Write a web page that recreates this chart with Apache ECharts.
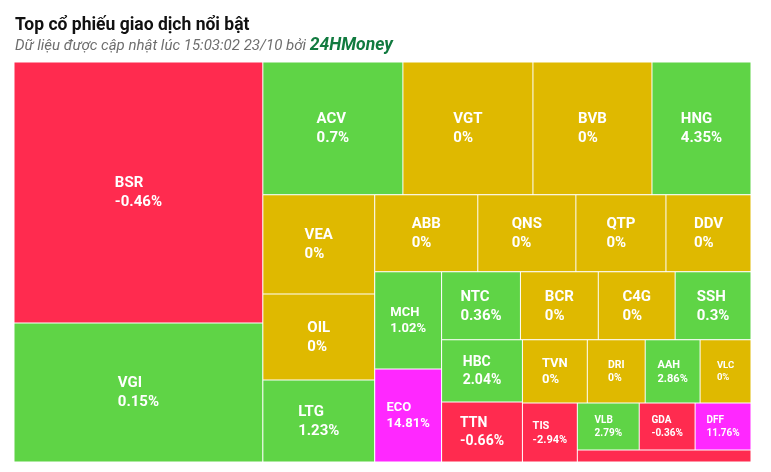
<!DOCTYPE html>
<html>
<head>
<meta charset="utf-8">
<script src="https://cdn.jsdelivr.net/npm/echarts@6/dist/echarts.min.js"></script>
<style>
html,body{margin:0;padding:0;background:#fff;}
#chart{width:771px;height:472px;}
</style>
</head>
<body>
<div id="chart"></div>
<script>
// ---------------- data ----------------
const titleText = 'Top cổ phiếu giao dịch nổi bật';
const updatedText = 'Dữ liệu được cập nhật lúc 15:03:02 23/10 bởi ';
const sourceText = '24HMoney';

const codes   = ['BSR','VGI','ACV','VGT','BVB','HNG','VEA','OIL','LTG','ABB','QNS','QTP','DDV','MCH','ECO','NTC','BCR','C4G','SSH','HBC','TTN','TVN','DRI','AAH','VLC','TIS','VLB','GDA','DFF',''];
const changes = [-0.46, 0.15, 0.7, 0, 0, 4.35, 0, 0, 1.23, 0, 0, 0, 0, 1.02, 14.81, 0.36, 0, 0, 0.3, 2.04, -0.66, 0, 0, 2.86, 0, -2.94, 2.79, -0.36, 11.76, -1];
// relative trading size of each stock (read from tile areas)
const sizes   = [64989, 34611, 18620, 17290, 15827, 13167, 11088, 9632, 9184, 7931, 7546, 6930, 6545, 6499, 6231, 5372, 5304, 5236, 5168, 5022, 4860, 4095, 3654, 3465, 3213, 3245, 2914, 2632, 2632, 2088];

// bands of the alternating (column / row) treemap layout of the reference
const bands = [
  ['BSR','VGI'], ['ACV','VGT','BVB','HNG'], ['VEA','OIL','LTG'], ['ABB','QNS','QTP','DDV'],
  ['MCH','ECO'], ['NTC','BCR','C4G','SSH'], ['HBC','TTN'], ['TVN','DRI','AAH','VLC'],
  ['TIS'], ['VLB','GDA','DFF'], ['']
];

// ---------------- styles ----------------
const GREEN = '#5fd446', RED = '#ff2b4f', YELLOW = '#dfb900', PURPLE = '#ff28ff';
const FONT = 'Roboto, "Noto Sans", sans-serif';
const labelFont = {MCH: 13, ECO: 13, TVN: 13, HBC: 14, TTN: 14, TIS: 11, DRI: 10.5, AAH: 11, VLC: 9.5, VLB: 10, GDA: 10, DFF: 10};

function colorOf(ch) {
  if (ch >= 7) return PURPLE;
  if (ch > 0) return GREEN;
  if (ch < 0) return RED;
  return YELLOW;
}

const measureCtx = document.createElement('canvas').getContext('2d');
function textWidth(str, fs) {
  measureCtx.font = 'bold ' + fs + 'px ' + FONT;
  return measureCtx.measureText(str).width;
}

const idx = {};
codes.forEach((c, i) => { idx[c] = i; });
const TINY = 1e-3;

function leaf(code, cellHeights) {
  const i = idx[code];
  const fs = labelFont[code] || 15;
  const lh = Math.round(fs * 1.25);
  const pct = changes[i] + '%';
  const w1 = textWidth(code, fs), w2 = textWidth(pct, fs);
  const tok = {color: '#fff', fontFamily: FONT, fontWeight: 'bold', fontSize: fs, lineHeight: lh};
  const h = cellHeights && cellHeights[code];
  const padTop = h ? Math.max((h - 2 * lh) / 2, 0) : 0;
  return {
    name: code,
    value: sizes[i],
    change: changes[i],
    padShort: w1 < w2 ? 1 : 2,
    itemStyle: {color: colorOf(changes[i]), borderWidth: 0.5, borderColor: '#fff'},
    label: code ? {
      show: true,
      padding: [padTop, 0, 0, 0],
      rich: {
        a: tok, b: tok,
        p: {fontSize: fs, lineHeight: lh, width: Math.abs(w1 - w2)}
      }
    } : {show: false}
  };
}
function spacer() {
  return {name: '', value: TINY, itemStyle: {color: '#fff', borderWidth: 0}, label: {show: false}};
}
function band(list, hs) {
  const out = [];
  list.forEach((c, k) => { if (k) out.push(spacer()); out.push(leaf(c, hs)); });
  return out.length === 1 ? out[0] : {name: '', children: out};
}
function nest(k, hs) {
  if (k === bands.length - 1) return band(bands[k], hs);
  const head = band(bands[k], hs);
  const rest = nest(k + 1, hs);
  return {name: '', children: k % 2 === 0 ? [head, spacer(), rest] : [head, rest]};
}

function fmt(p) {
  const pct = p.data.change + '%';
  const short = p.data.padShort;
  const l1 = '{a|' + p.name + '}' + (short === 1 ? '{p|\u00a0}' : '');
  const l2 = '{b|' + pct + '}' + (short === 2 ? '{p|\u00a0}' : '');
  return l1 + '\n' + l2;
}

function buildOption(hs) {
  return {
    animation: false,
    backgroundColor: '#fff',
    title: {
      left: 10, top: 12,
      text: titleText,
      textStyle: {fontFamily: FONT, fontSize: 17.5, fontWeight: 'bold', color: '#111'},
      subtext: '{a|' + updatedText + '}{b|' + sourceText + '}',
      itemGap: 2,
      subtextStyle: {
        rich: {
          a: {fontFamily: FONT, fontSize: 15, fontStyle: 'italic', color: '#6e6e6e'},
          b: {fontFamily: FONT, fontSize: 17.5, fontStyle: 'italic', fontWeight: 'bold', color: '#117a3f'}
        }
      }
    },
    series: [{
      type: 'treemap',
      left: 14, top: 62, width: 737, height: 400,
      roam: false,
      nodeClick: false,
      sort: false,
      squareRatio: 8,
      breadcrumb: {show: false},
      itemStyle: {borderWidth: 0, gapWidth: 0, borderColor: '#fff'},
      upperLabel: {show: false},
      label: {
        show: true,
        position: 'inside',
        align: 'center',
        verticalAlign: 'middle',
        overflow: 'none',
        color: '#fff',
        fontFamily: FONT,
        fontWeight: 'bold',
        formatter: fmt
      },
      emphasis: {disabled: true},
      data: nest(0, hs).children
    }]
  };
}

const chart = echarts.init(document.getElementById('chart'), null, {renderer: 'canvas'});
chart.setOption(buildOption(null));

// read the cell heights that the treemap layout produced, then centre the labels vertically
const cellHeights = {};
try {
  const tree = chart.getModel().getSeriesByIndex(0).getData().tree;
  tree.eachNode(function (node) {
    if (node.name && (!node.children || !node.children.length)) {
      const lay = node.getLayout();
      if (lay) cellHeights[node.name] = lay.height;
    }
  });
} catch (e) {}
chart.setOption(buildOption(cellHeights), {notMerge: true});
</script>
</body>
</html>
